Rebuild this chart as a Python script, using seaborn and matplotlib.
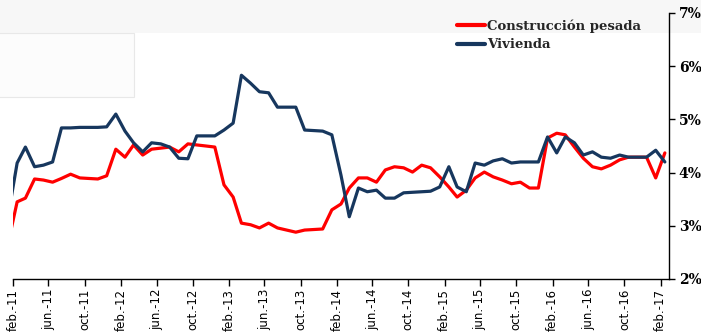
from __future__ import annotations

import matplotlib

matplotlib.use("Agg")
import matplotlib.dates as mdates
import matplotlib.pyplot as plt
from matplotlib.patches import Rectangle
from matplotlib.ticker import FuncFormatter
import pandas as pd
import seaborn as sns


# monthly points, jan-11 .. feb-17 (jan-11 falls just left of the axis and is clipped)
MONTHS = pd.date_range("2011-01-01", "2017-02-01", freq="MS") + pd.Timedelta(days=14)

CONSTRUCCION = [
    2.66,
    3.45, 3.52, 3.88, 3.86, 3.82, 3.89, 3.97, 3.90, 3.89, 3.88, 3.94, 4.44,
    4.29, 4.52, 4.33, 4.44, 4.46, 4.48, 4.39, 4.54, 4.52, 4.50, 4.48, 3.77,
    3.54, 3.05, 3.02, 2.96, 3.05, 2.96, 2.92, 2.88, 2.92, 2.93, 2.94, 3.30,
    3.41, 3.71, 3.90, 3.90, 3.82, 4.05, 4.11, 4.09, 4.01, 4.14, 4.09, 3.92,
    3.73, 3.54, 3.67, 3.90, 4.01, 3.92, 3.86, 3.79, 3.82, 3.71, 3.71, 4.65,
    4.74, 4.71, 4.48, 4.27, 4.11, 4.07, 4.14, 4.24, 4.29, 4.29, 4.29, 3.90,
    4.37,
]
VIVIENDA = [
    3.17,
    4.18, 4.48, 4.11, 4.14, 4.20, 4.84, 4.84, 4.85, 4.85, 4.85, 4.86, 5.10,
    4.78, 4.56, 4.39, 4.56, 4.54, 4.48, 4.27, 4.26, 4.69, 4.69, 4.69, 4.80,
    4.93, 5.83, 5.68, 5.52, 5.50, 5.23, 5.23, 5.23, 4.80, 4.79, 4.78, 4.71,
    3.95, 3.17, 3.71, 3.64, 3.67, 3.52, 3.52, 3.62, 3.63, 3.64, 3.65, 3.73,
    4.11, 3.73, 3.64, 4.18, 4.14, 4.22, 4.26, 4.18, 4.20, 4.20, 4.20, 4.67,
    4.37, 4.67, 4.56, 4.33, 4.39, 4.29, 4.27, 4.33, 4.29, 4.29, 4.29, 4.42,
    4.20,
]
SERIES = ["Construcción pesada", "Vivienda"]
COLORS = ["#FF0000", "#17375E"]
MES = ["ene.", "feb.", "mar.", "abr.", "may.", "jun.",
       "jul.", "ago.", "sept.", "oct.", "nov.", "dic."]


def main() -> None:
    sns.set_theme(style="white")
    plt.rcParams["font.family"] = ["DejaVu Sans"]

    df = pd.DataFrame({"fecha": MONTHS, SERIES[0]: CONSTRUCCION, SERIES[1]: VIVIENDA})
    long = df.melt(id_vars="fecha", var_name="serie", value_name="valor")

    fig = plt.figure(figsize=(7.01, 3.36), dpi=100)
    fig.patch.set_facecolor("white")
    # faint slide background left over in the source screenshot
    fig.patches.append(Rectangle((0, 1 - 33 / 336), 1, 33 / 336, transform=fig.transFigure,
                                 facecolor="#f7f7f7", edgecolor="none", zorder=-5))
    fig.patches.append(Rectangle((-0.01, 1 - 97 / 336), 141 / 701, 64 / 336,
                                 transform=fig.transFigure, facecolor="#fcfcfc",
                                 edgecolor="#e8e8e8", lw=0.8, zorder=-5))

    ax = fig.add_axes([13 / 701, 57 / 336, 656 / 701, 266 / 336])
    ax.set_facecolor("none")
    ax.set_zorder(2)
    sns.lineplot(data=long, x="fecha", y="valor", hue="serie", hue_order=SERIES,
                 palette=COLORS, linewidth=2.3, ax=ax, legend=True)

    ax.set_xlim(pd.Timestamp("2011-02-01"), pd.Timestamp("2017-03-01"))
    ax.set_ylim(2, 7)
    ax.set_xlabel("")
    ax.set_ylabel("")

    ax.xaxis.set_major_locator(mdates.MonthLocator(bymonth=[2, 6, 10], bymonthday=1))
    ax.xaxis.set_major_formatter(
        FuncFormatter(lambda v, _: (lambda d: f"{MES[d.month - 1]}-{d:%y}")(mdates.num2date(v)))
    )
    ax.yaxis.tick_right()
    ax.yaxis.set_major_formatter(FuncFormatter(lambda v, _: f"{v:.0f}%"))

    for side in ["top", "left"]:
        ax.spines[side].set_visible(False)
    for side in ["bottom", "right"]:
        ax.spines[side].set_color("black")
        ax.spines[side].set_linewidth(1.0)

    ax.tick_params(axis="x", bottom=True, direction="out", length=5, width=1,
                   color="black", labelcolor="black", labelrotation=90,
                   labelsize=8.5, pad=2)
    ax.tick_params(axis="y", right=True, left=False, direction="out", length=4, width=1,
                   color="black", labelcolor="black", labelsize=10, pad=3)
    for lab in ax.get_yticklabels():
        lab.set_fontfamily(["DejaVu Serif"])
        lab.set_fontweight("bold")

    leg = ax.legend(loc="upper left", bbox_to_anchor=((452 - 13) / 656, 0.995),
                    frameon=False, handlelength=2.1, handletextpad=0.15,
                    labelspacing=0.4, borderaxespad=0.0,
                    prop={"family": ["DejaVu Serif"], "weight": "bold", "size": 9.5})
    for line in leg.get_lines():
        line.set_linewidth(3)

    fig.savefig("out.png", dpi=100, facecolor=fig.get_facecolor())
    plt.close(fig)


if __name__ == "__main__":
    main()
